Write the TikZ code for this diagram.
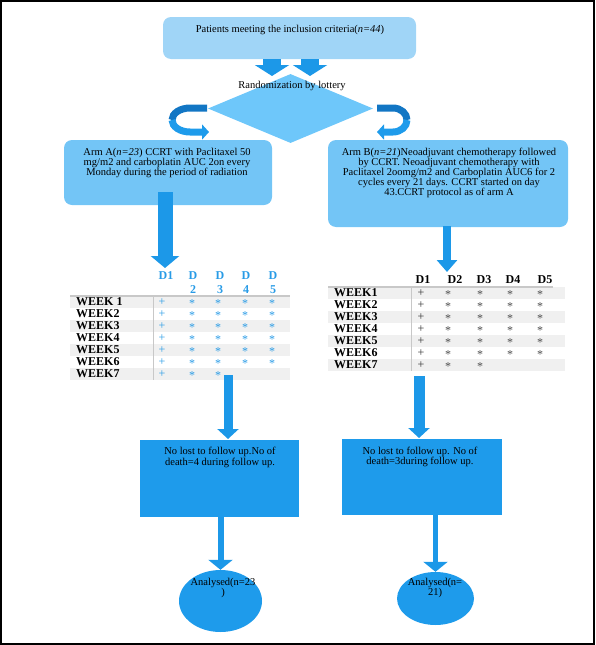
\documentclass[tikz,border=0pt]{standalone}
\usepackage{fontspec}
\setmainfont{Liberation Serif}
\usetikzlibrary{arrows.meta,shapes.geometric}
\definecolor{topfill}{RGB}{160,213,247}
\definecolor{diafill}{RGB}{110,199,250}
\definecolor{armfill}{RGB}{115,197,246}
\definecolor{arrowblue}{RGB}{28,152,232}
\definecolor{boxblue}{RGB}{30,155,235}
\definecolor{curldark}{RGB}{18,118,196}
\definecolor{bandgray}{RGB}{240,240,240}
\definecolor{linegray}{RGB}{200,200,200}
\definecolor{tabblue}{RGB}{40,155,230}
\begin{document}
\begin{tikzpicture}[x=1pt,y=-1pt,
  txt/.style={font=\fontsize{10.5}{10.2}\selectfont, align=center, inner sep=0pt},
  tab/.style={font=\fontsize{12}{12}\bfseries, inner sep=0pt},
  roundbox/.style={draw=none, rounded corners=8pt, inner sep=0pt},
  blk/.style={draw=arrowblue, line width=#1},
  curlback/.style={draw=curldark, line width=7pt},
  curlfront/.style={draw=boxblue, line width=7pt, -{Triangle[width=15pt,length=7pt]}},
  band/.style={fill=bandgray, draw=none},
  tline/.style={draw=linegray, line width=1.2pt},
  vline/.style={draw=linegray, line width=0.8pt},
  entry/.style={font=\fontsize{12}{12}\selectfont, inner sep=0pt}
]
\useasboundingbox (0,0) rectangle (595,645);

% top box and randomization
\node[roundbox, fill=topfill, minimum width=253pt, minimum height=42pt] (top) at (289.5,38) {};
\node[txt] (toptext) at (290,30) {Patients meeting the inclusion criteria(\textit{n=44})};
\node[diamond, fill=diafill, draw=none, minimum width=165pt, minimum height=69pt, inner sep=0pt] (dia) at (290.5,108.5) {};
\node[txt] (randtext) at (292,86) {Randomization by lottery};

% arm boxes
\node[roundbox, fill=armfill, minimum width=208pt, minimum height=65pt] (armA) at (168,172.5) {};
\node[txt] (armAtext) at (167,163) {Arm A(\textit{n=23}) CCRT with Paclitaxel 50\\mg/m2 and carboplatin AUC 2on every\\Monday during the period of radiation};
\node[roundbox, fill=armfill, minimum width=240pt, minimum height=87pt] (armB) at (448,183.5) {};
\node[txt] (armBtext) at (449,173) {Arm B(\textit{n=21})Neoadjuvant chemotherapy followed\\by CCRT. Neoadjuvant chemotherapy with\\Paclitaxel 2oomg/m2 and Carboplatin AUC6 for 2\\cycles every 21 days. CCRT started on day\\43.CCRT protocol as of arm A};

% curl arrows
\draw[curlback] (207,108) -- (190,108) arc[start angle=270,end angle=180,x radius=18,y radius=12];
\draw[curlfront] (172,120) arc[start angle=180,end angle=90,x radius=18,y radius=12] -- (209,132);
\draw[curlback] (377,108) -- (393,108) arc[start angle=-90,end angle=0,x radius=14,y radius=12];
\draw[curlfront] (407,120) arc[start angle=0,end angle=90,x radius=14,y radius=12] -- (377,132);

% left table
\foreach \r in {1,3,5,7} {\fill[band] (70,{302+12*(\r-1)-6}) rectangle (290,{302+12*(\r-1)+6});}
\draw[tline] (70,296) -- (290,296);
\draw[vline] (153,296) -- (153,380);
\node[tab, text=tabblue] (LH1) at (166,276) {D1};
\foreach \c/\x in {2/193,3/220,4/246,5/273} {
  \node[tab, text=tabblue, align=center, font=\fontsize{12}{14}\bfseries] (LH\c) at (\x,283) {D\\\c};
}
\foreach \r/\lab in {1/WEEK 1,2/WEEK2,3/WEEK3,4/WEEK4,5/WEEK5,6/WEEK6,7/WEEK7} {
  \node[tab, anchor=west] (LW\r) at (76,{302+12*(\r-1)}) {\lab};
  \node[entry, text=tabblue] (LP\r) at (162,{302+12*(\r-1)}) {+};
}
\foreach \r in {1,...,6} {
  \foreach \c/\x in {2/192,3/218,4/245,5/272} {
    \node[entry, text=tabblue] (LS\r\c) at (\x,{304+12*(\r-1)}) {*};
  }
}
\node[entry, text=tabblue] (LS72) at (192,376) {*};
\node[entry, text=tabblue] (LS73) at (218,376) {*};

% right table
\foreach \r in {1,3,5,7} {\fill[band] (328,{293+12*(\r-1)-6}) rectangle (565,{293+12*(\r-1)+6});}
\draw[tline] (328,287) -- (553,287);
\draw[vline] (411,287) -- (411,371);
\foreach \c/\x in {1/423,2/455,3/484,4/513,5/545} {
  \node[tab] (RH\c) at (\x,280) {D\c};
}
\foreach \r in {1,...,7} {
  \node[tab, anchor=west] (RW\r) at (334,{293+12*(\r-1)}) {WEEK\r};
  \node[entry, text=black!80] (RP\r) at (421,{293+12*(\r-1)}) {+};
}
\foreach \r in {1,...,6} {
  \foreach \c/\x in {2/448,3/480,4/510,5/540} {
    \node[entry, text=black!70] (RS\r\c) at (\x,{295+12*(\r-1)}) {*};
  }
}
\node[entry, text=black!70] (RS72) at (448,367) {*};
\node[entry, text=black!70] (RS73) at (480,367) {*};

% follow-up boxes
\node[draw=none, fill=boxblue, minimum width=159pt, minimum height=77pt, inner sep=0pt] (fuA) at (219.5,478.5) {};
\node[txt] (fuAtext) at (220,457.5) {No lost to follow up.No of\\death=4 during follow up.};
\node[draw=none, fill=boxblue, minimum width=160pt, minimum height=76pt, inner sep=0pt] (fuB) at (422,477) {};
\node[txt] (fuBtext) at (420,457) {No lost to follow up. No of\\death=3during follow up.};

% ellipses
\node[ellipse, fill=boxblue, draw=none, minimum width=83pt, minimum height=62pt, inner sep=0pt] (anA) at (220.5,601) {};
\node[txt] (anAtext) at (223,588) {Analysed(n=23\\)};
\node[ellipse, fill=boxblue, draw=none, minimum width=77pt, minimum height=53pt, inner sep=0pt] (anB) at (435.5,598.5) {};
\node[txt] (anBtext) at (435,588) {Analysed(n=\\21)};

% block arrows
\coordinate (t1s) at (272,59);  \coordinate (t1e) at (272,76);
\coordinate (t2s) at (310,59);  \coordinate (t2e) at (310,76);
\draw[blk=18pt, -{Triangle[width=34pt,length=11pt]}] (t1s) -- (t1e);
\draw[blk=18pt, -{Triangle[width=34pt,length=11pt]}] (t2s) -- (t2e);
\coordinate (aAs) at (165,192); \coordinate (aAe) at (165,268);
\draw[blk=15pt, -{Triangle[width=28pt,length=12pt]}] (aAs) -- (aAe);
\coordinate (aBs) at (447,226); \coordinate (aBe) at (447,272);
\draw[blk=8pt, -{Triangle[width=20pt,length=12pt]}] (aBs) -- (aBe);
\coordinate (tAs) at (228,375); \coordinate (tAe) at (228,439);
\draw[blk=9pt, -{Triangle[width=21pt,length=10pt]}] (tAs) -- (tAe);
\coordinate (tBs) at (419,376); \coordinate (tBe) at (419,438);
\draw[blk=11pt, -{Triangle[width=21pt,length=10pt]}] (tBs) -- (tBe);
\draw[blk=6pt, -{Triangle[width=24pt,length=10pt]}] (fuA.south -| anA) -- (anA.north);
\draw[blk=5pt, -{Triangle[width=24pt,length=10pt]}] (fuB.south -| anB) -- (anB.north);

% frame
\draw[line width=2pt] (1,1) rectangle (594,644);
\end{tikzpicture}
\end{document}
